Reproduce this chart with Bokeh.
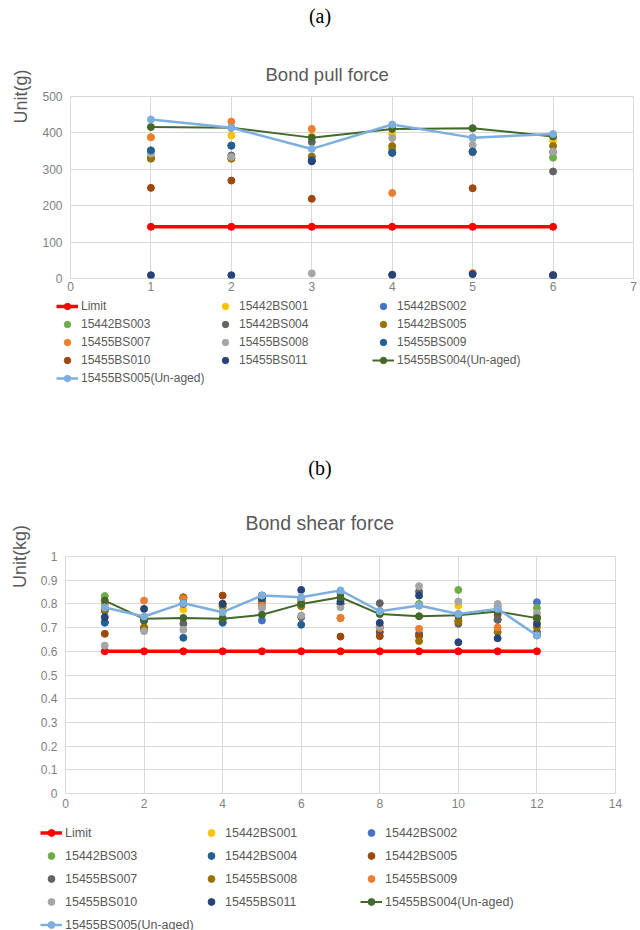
from bokeh.plotting import figure
from bokeh.models import Title, Legend, LegendItem, FixedTicker, Range1d, Div
from bokeh.embed import file_html
from bokeh.resources import INLINE

# ---------------- data: panel (a) Bond pull force ----------------
A_X = [1, 2, 3, 4, 5, 6]
A_XTICKS = [0, 1, 2, 3, 4, 5, 6, 7]
A_YTICKS = [0, 100, 200, 300, 400, 500]
A_NAMES = ["Limit", "15442BS001", "15442BS002", "15442BS003", "15442BS004",
           "15442BS005", "15455BS007", "15455BS008", "15455BS009",
           "15455BS010", "15455BS011", "15455BS004(Un-aged)", "15455BS005(Un-aged)"]
A_LIMIT = [142, 142, 142, 142, 142, 142]
A_001 = [388, 393, 391, 397, 386, 379]
A_002 = [350, 365, 323, 346, 348, 347]
A_003 = [329, 330, 334, 356, 349, 332]
A_004 = [331, 338, 375, 347, 347, 294]
A_005 = [330, 329, 335, 364, 387, 364]
A_007 = [388, 431, 411, 235, 15, 10]
A_008 = [343, 334, 14, 386, 367, 349]
A_009 = [352, 365, 325, 345, 349, 9]
A_010 = [249, 269, 219, 10, 248, 9]
A_011 = [9, 9, 322, 10, 12, 8]
A_UA004 = [416, 414, 387, 411, 413, 390]
A_UA005 = [437, 414, 356, 423, 387, 397]
A_COLORS = ["#FF0000", "#FFC000", "#4472C4", "#70AD47", "#636363", "#997300",
            "#ED7D31", "#A5A5A5", "#255E91", "#9E480E", "#264478", "#43682B", "#7CAFDD"]

# ---------------- data: panel (b) Bond shear force ----------------
B_X = [1, 2, 3, 4, 5, 6, 7, 8, 9, 10, 11, 12]
B_XTICKS = [0, 2, 4, 6, 8, 10, 12, 14]
B_YTICKS = [0, 0.1, 0.2, 0.3, 0.4, 0.5, 0.6, 0.7, 0.8, 0.9, 1]
B_YTICK_LABELS = ["0", "0.1", "0.2", "0.3", "0.4", "0.5", "0.6", "0.7", "0.8", "0.9", "1"]
B_NAMES = ["Limit", "15442BS001", "15442BS002", "15442BS003", "15442BS004",
           "15442BS005", "15455BS007", "15455BS008", "15455BS009",
           "15455BS010", "15455BS011", "15455BS004(Un-aged)", "15455BS005(Un-aged)"]
B_LIMIT = [0.6, 0.6, 0.6, 0.6, 0.6, 0.6, 0.6, 0.6, 0.6, 0.6, 0.6, 0.6]
B_001 = [0.775, 0.70, 0.776, 0.786, 0.80, 0.793, 0.80, 0.70, 0.748, 0.793, 0.79, 0.73]
B_002 = [0.72, 0.73, 0.80, 0.72, 0.730, 0.82, 0.845, 0.77, 0.793, 0.755, 0.778, 0.807]
B_003 = [0.833, 0.73, 0.825, 0.735, 0.83, 0.80, 0.852, 0.76, 0.80, 0.859, 0.79, 0.783]
B_004 = [0.723, 0.730, 0.657, 0.723, 0.81, 0.712, 0.80, 0.681, 0.674, 0.75, 0.733, 0.667]
B_005 = [0.674, 0.70, 0.828, 0.835, 0.835, 0.80, 0.662, 0.664, 0.664, 0.73, 0.754, 0.745]
B_007 = [0.77, 0.695, 0.716, 0.80, 0.835, 0.744, 0.80, 0.803, 0.852, 0.716, 0.733, 0.681]
B_008 = [0.776, 0.70, 0.826, 0.79, 0.82, 0.79, 0.74, 0.705, 0.643, 0.726, 0.681, 0.702]
B_009 = [0.797, 0.814, 0.821, 0.80, 0.793, 0.811, 0.741, 0.698, 0.695, 0.757, 0.700, 0.740]
B_010 = [0.624, 0.685, 0.691, 0.744, 0.782, 0.751, 0.786, 0.705, 0.875, 0.81, 0.80, 0.761]
B_011 = [0.744, 0.779, 0.803, 0.80, 0.825, 0.859, 0.81, 0.720, 0.835, 0.638, 0.655, 0.716]
B_UA004 = [0.814, 0.737, 0.741, 0.737, 0.754, 0.80, 0.828, 0.757, 0.748, 0.752, 0.768, 0.74]
B_UA005 = [0.785, 0.747, 0.803, 0.765, 0.835, 0.828, 0.857, 0.769, 0.793, 0.757, 0.779, 0.667]
B_COLORS = ["#FF0000", "#FFC000", "#4472C4", "#70AD47", "#255E91", "#9E480E",
            "#636363", "#997300", "#ED7D31", "#A5A5A5", "#264478", "#43682B", "#7CAFDD"]

GRID = "#D9D9D9"
TXT = "#595959"
TICK = "#7F7F7F"
W = 640


def line_or_dots(p, i, xs, ys, col):
    """Limit and the two un-aged series are lines with markers, the rest are dots."""
    if i == 0 or i >= 11:
        lw = 3.5 if i == 0 else (2 if i == 11 else 2.5)
        rl = p.line(xs, ys, line_color=col, line_width=lw)
        rs = p.scatter(xs, ys, size=7, fill_color=col, line_color=col)
        return [rl, rs]
    return [p.scatter(xs, ys, size=7, fill_color=col, line_color=col)]


def make_plot(title, ylabel, xs, series, colors, xticks, yticks, ylabels, xr, yr,
              height, borders, title_cfg, xstand):
    bl, br, bt, bb = borders
    p = figure(width=W, height=height, output_backend="svg", toolbar_location=None,
               title=None, x_range=Range1d(*xr), y_range=Range1d(*yr),
               min_border_left=bl, min_border_right=br, min_border_top=bt,
               min_border_bottom=bb)
    p.background_fill_color = "white"
    p.border_fill_color = "white"
    p.outline_line_color = GRID
    xt = FixedTicker(ticks=xticks)
    yt = FixedTicker(ticks=yticks)
    p.xaxis.ticker = xt
    p.yaxis.ticker = yt
    p.xgrid.ticker = xt
    p.ygrid.ticker = yt
    p.xgrid.grid_line_color = GRID
    p.ygrid.grid_line_color = GRID
    for ax in (p.xaxis, p.yaxis):
        ax.axis_line_color = None
        ax.major_tick_line_color = None
        ax.minor_tick_line_color = None
        ax.major_tick_out = 0
        ax.major_tick_in = 0
        ax.minor_tick_out = 0
        ax.major_label_text_font = "Liberation Sans"
        ax.major_label_text_font_size = "12px"
        ax.major_label_text_color = TICK
    p.xaxis.major_label_standoff = xstand
    p.yaxis.major_label_standoff = 8
    if ylabels is not None:
        p.yaxis.major_label_overrides = {t: l for t, l in zip(yticks, ylabels)}
    p.yaxis.axis_label = ylabel
    p.yaxis.axis_label_text_font = "Liberation Sans"
    p.yaxis.axis_label_text_font_size = "18px"
    p.yaxis.axis_label_text_font_style = "normal"
    p.yaxis.axis_label_text_color = TXT
    p.yaxis.axis_label_standoff = 8
    try:
        p.yaxis.axis_label_align = "end"
    except Exception:
        pass
    for i, (ys, col) in enumerate(zip(series, colors)):
        line_or_dots(p, i, xs, ys, col)
    t1 = Title(text=title, align="left", offset=title_cfg[0], standoff=title_cfg[1],
               text_font="Liberation Sans", text_font_size=title_cfg[2],
               text_font_style="normal", text_color=TXT)
    p.add_layout(t1, "above")
    return p


def make_legend(names, xs, series, colors, height, left, top, fs, sp, lh, lwid):
    # legend strip: the same series are drawn here outside the visible range,
    # so that only their legend entries show
    q = figure(width=W, height=height, output_backend="svg", toolbar_location=None,
               title=None, x_axis_type=None, y_axis_type=None,
               x_range=Range1d(-20, -19), y_range=Range1d(-20, -19),
               min_border_left=left, min_border_top=top, min_border_right=0,
               min_border_bottom=0)
    q.outline_line_color = None
    q.background_fill_color = "white"
    q.border_fill_color = "white"
    q.grid.visible = False
    items = []
    for i, (name, ys, col) in enumerate(zip(names, series, colors)):
        rs = line_or_dots(q, i, xs, ys, col)
        items.append(LegendItem(label=name, renderers=rs))
    leg = Legend(items=items, location="top_left", orientation="horizontal", ncols=3,
                 glyph_width=22, glyph_height=lh, label_height=lh, label_width=lwid,
                 label_standoff=3, spacing=sp, padding=0, margin=0,
                 border_line_color=None, background_fill_alpha=0,
                 label_text_font="Liberation Sans", label_text_font_size=fs,
                 label_text_color=TXT)
    q.add_layout(leg, "center")
    return q


def tag_div(text, height, pad):
    html = ('<div style="width:%dpx;text-align:center;font-family:\'Liberation Serif\','
            '\'Times New Roman\',serif;font-size:20px;line-height:20px;color:#000;'
            'padding-top:%dpx;margin:0">%s</div>' % (W, pad, text))
    return Div(text=html, width=W, height=height, margin=0)


A_SERIES = [A_LIMIT, A_001, A_002, A_003, A_004, A_005, A_007, A_008, A_009,
            A_010, A_011, A_UA004, A_UA005]
B_SERIES = [B_LIMIT, B_001, B_002, B_003, B_004, B_005, B_007, B_008, B_009,
            B_010, B_011, B_UA004, B_UA005]

div_a = tag_div("(a)", 50, 6)
pa = make_plot("Bond pull force", "Unit(g)", A_X, A_SERIES, A_COLORS, A_XTICKS,
               A_YTICKS, None, (0, 7), (0, 500), 246, (70, 7, 0, 18),
               (195, 23, "18.5px"), 3)
la = make_legend(A_NAMES, A_X, A_SERIES, A_COLORS, 104, 56, 2, "12px", 2, 16, 131)
div_b = tag_div("(b)", 87, 58)
pb = make_plot("Bond shear force", "Unit(kg)", B_X, B_SERIES, B_COLORS, B_XTICKS,
               B_YTICKS, B_YTICK_LABELS, (0, 14), (0, 1), 326, (65, 25, 0, 20),
               (180, 45, "19.5px"), 5)
lb = make_legend(B_NAMES, B_X, B_SERIES, B_COLORS, 117, 40, 11, "12.5px", 6, 17, 129)

open("out.html", "w").write(file_html([div_a, pa, la, div_b, pb, lb], INLINE))
